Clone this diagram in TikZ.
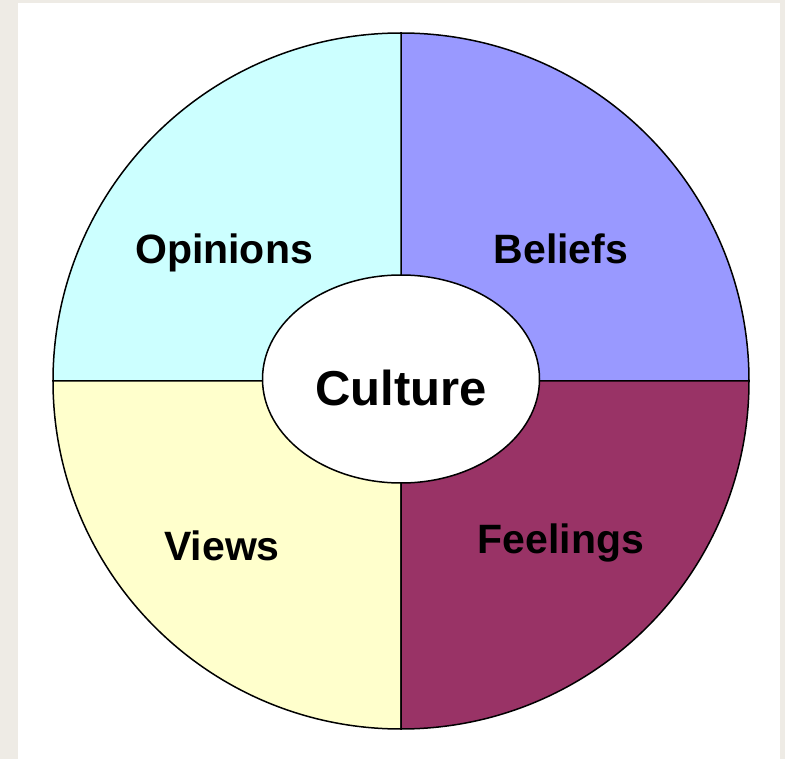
\documentclass[tikz,border=0pt]{standalone}
\usepackage{fontspec}
\setmainfont{Liberation Sans}
\usetikzlibrary{shapes.geometric}
\definecolor{opinionscol}{HTML}{CCFFFF}
\definecolor{beliefscol}{HTML}{9999FF}
\definecolor{viewscol}{HTML}{FFFFCC}
\definecolor{feelingscol}{HTML}{993366}
\definecolor{pagecol}{HTML}{EEEBE5}
\tikzset{
  label text/.style={font=\fontsize{41}{41}\selectfont\bfseries, text=black},
  sector/.style={draw=black, line width=1.5pt}
}
\begin{document}
\begin{tikzpicture}[x=1pt,y=-1pt]
\fill [pagecol] (0,0) rectangle (785,759);
\fill [white] (18,3) rectangle (780,759);
\useasboundingbox (0,0) rectangle (785,759);
\coordinate (c) at (401,381);
% the four quarters
\filldraw [sector, fill=beliefscol] (c) -- ++(348,0) arc [start angle=0, end angle=-90, radius=348] -- cycle;
\filldraw [sector, fill=opinionscol] (c) -- ++(0,-348) arc [start angle=-90, end angle=-180, radius=348] -- cycle;
\filldraw [sector, fill=viewscol] (c) -- ++(-348,0) arc [start angle=180, end angle=90, radius=348] -- cycle;
\filldraw [sector, fill=feelingscol] (c) -- ++(0,348) arc [start angle=90, end angle=0, radius=348] -- cycle;
% centre
\node [ellipse, draw=black, line width=1.5pt, fill=white, minimum width=277pt, minimum height=208pt, inner sep=0pt] (culture) at (401,379) {};
\node [font=\fontsize{49}{49}\selectfont\bfseries] (culturetext) at (401,388) {Culture};
\node [label text] (opinions) at (224,253) {Opinions};
\node [label text] (beliefs) at (561,249) {Beliefs};
\node [label text] (views) at (222,546) {Views};
\node [label text] (feelings) at (561,543) {Feelings};
\end{tikzpicture}
\end{document}
